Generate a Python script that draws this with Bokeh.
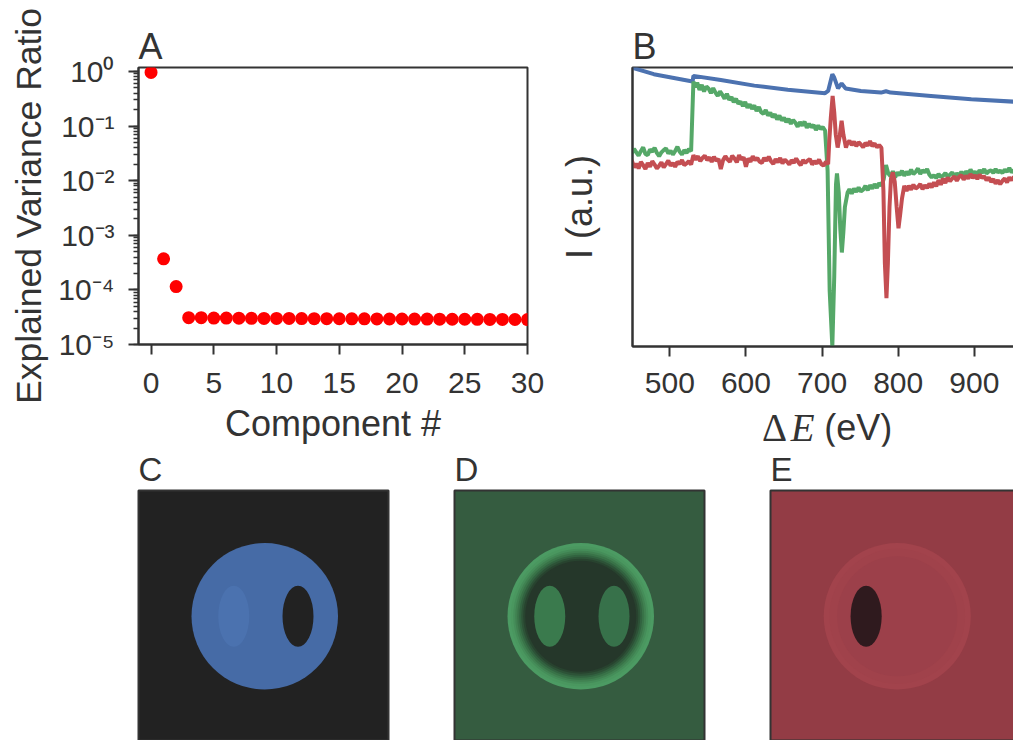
from bokeh.plotting import figure
from bokeh.layouts import column, row
from bokeh.models import FixedTicker, LogTicker, Range1d
from bokeh.embed import file_html
from bokeh.resources import INLINE
from bokeh.core.properties import value

# ---- Panel A data
component = list(range(0, 31))
variance = [0.96, 3.7e-4, 1.15e-4, 3.1e-5, 3.1e-5, 3.05e-5, 3.05e-5, 3.03e-5, 3.02e-5, 3.0e-5,
            3.0e-5, 3.0e-5, 2.98e-5, 2.97e-5, 2.97e-5, 2.96e-5, 2.95e-5, 2.95e-5, 2.94e-5, 2.93e-5,
            2.93e-5, 2.92e-5, 2.92e-5, 2.91e-5, 2.9e-5, 2.9e-5, 2.89e-5, 2.88e-5, 2.88e-5, 2.87e-5, 2.86e-5]
a_xticks = [0, 5, 10, 15, 20, 25, 30]
a_yticks = [1, 0.1, 0.01, 0.001, 0.0001, 0.00001]
a_ylabels = ["10⁰", "10⁻¹", "10⁻²", "10⁻³", "10⁻⁴", "10⁻⁵"]
b_xticks = [500, 600, 700, 800, 900]

# ---- Panel B data (energy in eV, intensity in % of the axis height)
blue_x = [450, 479, 530, 531, 567, 611, 655, 704, 708, 713.5, 716, 721, 725.7, 731, 751, 777.5, 784, 790, 843, 896, 962]
blue_y = [100, 97.6, 95, 97, 95.5, 93.5, 92, 90.8, 91.6, 97.6, 96.4, 92.5, 94.3, 92.5, 91.6, 91, 91.5, 91, 89.8, 88.6, 87.6]

# green, noisy stretches sampled every 3 eV
green_pre = [69.2, 70.8, 69.6, 68.4, 70.0, 71.4, 69.0, 68.6, 70.6, 69.8, 71.2, 69.4, 68.2, 69.6, 70.4, 71.0, 69.2, 70.2,
             68.8, 70.0, 71.6, 69.8, 68.8, 70.4, 69.4, 70.8, 70.0]
green_post = [93.0, 94.6, 92.0, 93.8, 91.4, 93.2, 92.4, 90.8, 92.6, 91.0, 89.8, 91.4, 90.2, 88.8, 90.6, 88.4, 89.4, 87.6,
              88.8, 87.0, 87.8, 86.2, 87.6, 85.6, 86.8, 85.2, 86.4, 84.4, 85.8, 84.0, 83.4, 84.8, 82.8, 83.8, 82.2, 83.2,
              81.4, 82.8, 81.0, 82.0, 80.4, 81.6, 79.8, 81.2, 80.2, 78.8, 80.4, 79.2, 80.6, 78.4, 79.8, 78.6, 79.4, 77.6,
              79.2, 78.0, 78.6, 77.4]
green_peak_x = [531, 707.3, 710, 713.5, 716, 718.3, 719.6, 722, 724, 726, 728, 730, 733.6]
green_peak_y = [95, 63, 20, 0, 25, 58, 62, 55, 42, 33.7, 41, 50, 55.2]
green_mid = [56.4, 54.8, 56.6, 55.4, 57.0, 55.6, 56.2, 57.6, 56.0, 57.8, 56.6, 58.2, 56.8, 58.6, 57.6]
green_step_x = [781, 784, 787]
green_step_y = [60, 65, 62]
green_tail1 = [61.0, 62.8, 60.6, 62.4, 61.4, 63.0, 61.2, 62.6, 61.6, 63.4, 61.8, 62.6, 63.8, 61.8, 63.2, 62.4, 63.6]
green_tail2 = [61.6, 60.6, 61.4, 60.4, 61.8, 60.8, 61.2, 62.2, 60.8, 61.6, 62.4, 61.0, 62.0, 61.4, 62.6, 61.2, 62.8, 61.8,
               63.4, 62.0, 62.6, 61.8, 63.2, 62.2, 63.6, 62.0, 62.8, 63.2, 62.2, 63.6, 62.4, 63.0, 62.2, 63.4, 62.6, 64.0,
               62.4, 63.2, 62.6, 63.8, 63.0]

# red, noisy stretches sampled every 3 eV
red_pre = [66.8, 64.2, 65.6, 63.8, 66.2, 65.0, 63.6, 65.8, 64.4, 66.4, 65.2, 63.8, 64.8, 66.0, 64.2, 65.4, 66.6, 64.8,
           65.8, 64.4, 66.2, 65.4, 66.8, 65.0, 65.6, 66.4, 65.2]
red_post = [68.6, 67.0, 68.2, 66.4, 67.6, 68.4, 66.8, 67.8, 66.2, 68.0,
            66.6, 67.2, 63.6, 66.8, 68.2, 67.0, 66.2, 68.4, 67.4, 66.0,
            68.6, 67.0, 67.8, 64.4, 67.4, 66.2, 68.2, 66.8, 67.6, 66.2,
            65.8, 67.6, 66.6, 68.0, 66.4, 65.4, 67.2, 66.0, 67.6, 65.6,
            67.0, 66.2, 65.2, 66.8, 65.8, 67.4, 66.0, 65.0, 66.8, 65.8,
            66.6, 67.2, 65.2, 66.4, 65.6, 67.0, 65.4, 64.8, 66.2, 65.4]
red_peak_x = [709.5, 711.5, 713.9, 716, 718, 720.5, 723, 725.7, 728, 731.4]
red_peak_y = [73.7, 82, 89.8, 84, 76, 71.3, 75, 80.9, 76, 71.3]
red_plateau = [72.6, 73.8, 72.2, 73.4, 71.8, 73.2, 72.4, 71.4, 73.0, 72.0, 73.6, 71.8, 72.8, 71.4, 72.2, 71.2]
red_drop_x = [780.6, 782.5, 784.6, 786.5, 788.6, 790.5, 793, 795.5, 798, 800.4, 802.5, 805, 808]
red_drop_y = [56, 30, 17.3, 30, 50, 60, 62.4, 59, 50, 42.4, 47, 53, 57.6]
red_tail = [55.8, 57.6, 56.2, 58.0, 56.6, 57.2, 58.2, 56.4, 57.8, 56.8, 58.4, 57.0, 58.8, 57.4, 59.6, 58.0, 60.2, 58.6,
            60.6, 59.2, 60.2, 61.0, 59.4, 60.8, 61.4, 59.8, 61.2, 60.2, 61.8, 60.4, 61.4, 60.0, 61.6, 60.4, 61.0, 59.6,
            60.6, 59.0, 60.0, 58.4, 59.6, 58.2, 59.4, 60.2, 58.8, 60.6, 59.6, 60.8, 59.8, 60.4, 60.6]


def grid(start, vals):
    return [start + 3 * i for i in range(len(vals))]


green_x = (grid(450, green_pre) + green_peak_x[:1] + grid(533, green_post) + green_peak_x[1:]
           + grid(736, green_mid) + green_step_x + grid(790, green_tail1) + grid(841, green_tail2))
green_y = (green_pre + green_peak_y[:1] + green_post + green_peak_y[1:]
           + green_mid + green_step_y + green_tail1 + green_tail2)
red_x = grid(450, red_pre) + grid(531, red_post) + red_peak_x + grid(733, red_plateau) + red_drop_x + grid(811, red_tail)
red_y = red_pre + red_post + red_peak_y + red_plateau + red_drop_y + red_tail

# ---- Image panels: shapes, in image pixels (0-100)
blob_center = [50.5]
blob_radius = [29.3]
ell_left_x = [38.1]
ell_right_x = [63.8]
ell_y = [50.3]
ell_w = [12.4]
ell_h = [24.4]
# concentric bands of panel D and E, outermost first
d_radii = [29.3, 28.0, 27.0, 26.2, 25.4, 24.6, 23.8, 23.0, 22.2]
d_colors = ["#4c9b63", "#4a975f", "#458d59", "#408151", "#397348", "#326340", "#2d5237", "#28432f", "#25372a"]
e_radii = [29.3, 27.0, 24.0]
e_colors = ["#a2434c", "#a0424b", "#9c404a"]

INK = "#333333"
TXT = "#333333"
FONT = "Liberation Sans"
SERIF = "Liberation Serif"


def style_axis(ax):
    ax.axis_line_color = INK
    ax.axis_line_width = 2
    ax.major_tick_line_color = INK
    ax.major_tick_line_width = 2
    ax.major_tick_out = 10
    ax.major_tick_in = 0
    ax.minor_tick_line_color = INK
    ax.minor_tick_line_width = 1.5
    ax.minor_tick_out = 5
    ax.minor_tick_in = 0
    ax.major_label_text_font = FONT
    ax.major_label_text_font_size = "30px"
    ax.major_label_text_color = TXT
    ax.major_label_standoff = 14
    ax.axis_label_text_font = FONT
    ax.axis_label_text_font_style = "normal"
    ax.axis_label_text_color = TXT


def style_fig(p, letter, size, standoff=2):
    p.grid.visible = False
    p.outline_line_color = INK
    p.outline_line_width = 2
    p.outline_line_alpha = 1
    p.title.text = letter
    p.title.text_font = FONT
    p.title.text_font_style = "normal"
    p.title.text_font_size = size
    p.title.text_color = TXT
    p.title.align = "left"
    p.title.offset = 0
    p.title.standoff = standoff


# ---- Panel A
pa = figure(width=554, height=446, y_axis_type="log", output_backend="svg", toolbar_location=None,
            x_range=Range1d(-1, 30), y_range=Range1d(1e-5, 1.18),
            min_border_left=138, min_border_right=27, min_border_top=67, min_border_bottom=100)
style_fig(pa, "A", "36px")
pa.scatter(component, variance, size=13, color="#ff0000", line_color=None)
style_axis(pa.xaxis[0])
style_axis(pa.yaxis[0])
pa.xaxis[0].ticker = FixedTicker(ticks=a_xticks)
pa.xaxis[0].major_label_standoff = 18
pa.xaxis[0].axis_label = "Component #"
pa.xaxis[0].axis_label_text_font_size = "36px"
pa.xaxis[0].axis_label_standoff = 7
pa.yaxis[0].ticker = LogTicker(num_minor_ticks=10)
pa.yaxis[0].major_label_overrides = dict(zip(a_yticks, a_ylabels))
pa.yaxis[0].axis_label = "Explained Variance Ratio"
pa.yaxis[0].axis_label_text_font_size = "35.5px"
pa.yaxis[0].axis_label_standoff = 6
pa.yaxis[0].major_label_orientation = "horizontal"

# ---- Panel B
pb = figure(width=467, height=411, output_backend="svg", toolbar_location=None,
            x_range=Range1d(451, 962), y_range=Range1d(0, 100),
            min_border_left=78, min_border_right=0, min_border_top=67, min_border_bottom=65)
style_fig(pb, "B", "36px")
pb.line(blue_x, blue_y, line_color="#4C72B0", line_width=4)
pb.line(green_x, green_y, line_color="#55A868", line_width=4)
pb.line(red_x, red_y, line_color="#C44E52", line_width=4)
style_axis(pb.xaxis[0])
style_axis(pb.yaxis[0])
pb.xaxis[0].ticker = FixedTicker(ticks=b_xticks)
pb.xaxis[0].major_label_standoff = 16
pb.yaxis[0].ticker = FixedTicker(ticks=[])
pb.yaxis[0].major_label_text_font_size = "0px"
pb.yaxis[0].axis_label = "I (a.u.)"
pb.yaxis[0].axis_label_text_font_size = "36px"
pb.yaxis[0].axis_label_standoff = 33

# Strip under panel B that carries its x label: upright Delta, italic E, sans "(eV)".
# It overlaps the empty space around it a little so that its texts have room.
pb_label = figure(width=467, height=49, output_backend="svg", toolbar_location=None, title=None,
                  x_range=pb.x_range, y_range=Range1d(0, 49),
                  min_border_left=78, min_border_right=0, min_border_top=0, min_border_bottom=0,
                  x_axis_location=None, y_axis_location=None, outline_line_color=None,
                  background_fill_alpha=0, border_fill_alpha=0, margin=(-6, 0, -8, 0))
pb_label.grid.visible = False
for txt, xpos, font, style, size in [("Δ", 621, SERIF, "normal", "39px"), ("E", 659, SERIF, "italic", "39px"),
                                     ("(eV)", 703, FONT, "normal", "36px")]:
    pb_label.text([xpos], [27], text=[txt], text_font=value(font), text_font_style=style,
                  text_font_size=size, text_color=TXT, text_baseline="alphabetic")


def image_panel(letter, width, left, right, bg):
    p = figure(width=width, height=300, output_backend="svg", toolbar_location=None,
               x_range=Range1d(0, 100), y_range=Range1d(100, 0),
               min_border_left=left, min_border_right=right, min_border_top=44, min_border_bottom=6,
               x_axis_location=None, y_axis_location=None, background_fill_color=bg)
    style_fig(p, letter, "33px", 5)
    return p


# ---- Panel C
pc = image_panel("C", 420, 138, 32, "#222222")
pc.ellipse(blob_center, ell_y, width=[2 * r for r in blob_radius], height=[2 * r for r in blob_radius],
           fill_color="#466BA6", line_color=None)
pc.ellipse(ell_left_x, ell_y, width=ell_w, height=ell_h, fill_color="#4B72AF", line_color=None)
pc.ellipse(ell_right_x, ell_y, width=ell_w, height=ell_h, fill_color="#222222", line_color=None)

# ---- Panel D
pd_ = image_panel("D", 318, 34, 34, "#355C40")
for r, c in zip(d_radii, d_colors):
    pd_.ellipse(blob_center, ell_y, width=2 * r, height=2 * r, fill_color=c, line_color=None)
pd_.ellipse(ell_left_x, ell_y, width=ell_w, height=ell_h, fill_color="#3A7A4D", line_color=None)
pd_.ellipse(ell_right_x, ell_y, width=ell_w, height=ell_h, fill_color="#37714A", line_color=None)

# ---- Panel E
pe = image_panel("E", 283, 32, 0, "#933C45")
for r, c in zip(e_radii, e_colors):
    pe.ellipse(blob_center, ell_y, width=2 * r, height=2 * r, fill_color=c, line_color=None)
pe.ellipse(ell_left_x, ell_y, width=ell_w, height=ell_h, fill_color="#2F1A1E", line_color=None)

root = column(row(pa, column(pb, pb_label, spacing=0), spacing=0),
              row(pc, pd_, pe, spacing=0), spacing=0,
              width=1013, height=740, styles={"overflow": "hidden"})
open("out.html", "w").write(file_html(root, INLINE))
